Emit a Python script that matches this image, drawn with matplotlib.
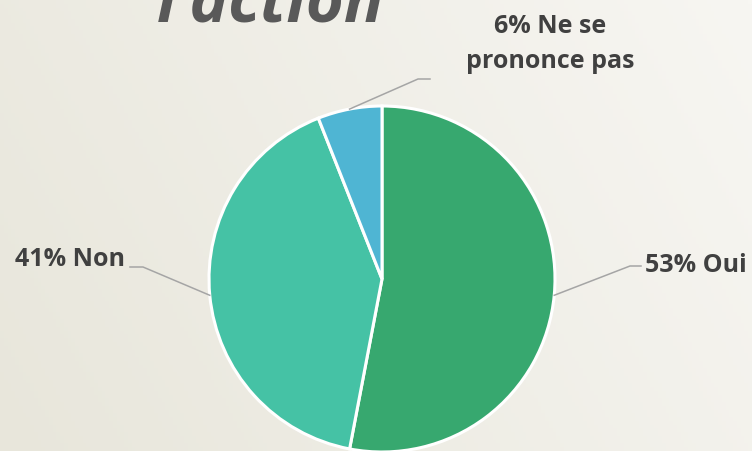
import numpy as np
import matplotlib
matplotlib.use("Agg")
import matplotlib.pyplot as plt

labels = ["Oui", "Non", "Ne se\nprononce pas"]
values = [53, 41, 6]
colors = ["#37A86F", "#45C2A5", "#4FB5D3"]

W, H = 752, 451
fig = plt.figure(figsize=(W / 100, H / 100), dpi=100)

# background gradient
bg = fig.add_axes([0, 0, 1, 1])
xx, yy = np.meshgrid(np.linspace(0, 1, 200), np.linspace(0, 1, 120))
t = np.clip(0.75 * xx + 0.25 * (1 - yy), 0, 1)
left = np.array([232, 230, 219]) / 255
right = np.array([247, 246, 242]) / 255
img = left[None, None, :] * (1 - t[..., None]) + right[None, None, :] * t[..., None]
bg.imshow(img, aspect="auto", extent=[0, 1, 0, 1])
bg.axis("off")

ax = fig.add_axes([0, 0, 1, 1])
ax.patch.set_alpha(0)

cx, cy, r = 382, H - 279, 173
wedges, _ = ax.pie(values, colors=colors, startangle=90, counterclock=False,
                   center=(cx, cy), radius=r, frame=True,
                   wedgeprops=dict(edgecolor="white", linewidth=2.2))
ax.set_xlim(0, W)
ax.set_ylim(0, H)
ax.axis("off")

font = "Open Sans"
txt_col = "#404040"
line_col = "#A5A5A5"

def edge_point(w):
    a = np.deg2rad((w.theta1 + w.theta2) / 2)
    return cx + r * np.cos(a), cy + r * np.sin(a)

# Oui
x0, y0 = edge_point(wedges[0])
ax.plot([x0, 630, 641], [y0, H - 266, H - 266], color=line_col, lw=1.1)
ax.text(645, H - 272, f"{values[0]}% {labels[0]}", fontsize=18, family=font,
        weight="bold", color=txt_col, ha="left", va="baseline")

# Non
x0, y0 = edge_point(wedges[1])
ax.plot([x0, 143, 130], [y0, H - 267, H - 267], color=line_col, lw=1.1)
ax.text(125, H - 266, f"{values[1]}% {labels[1]}", fontsize=18, family=font,
        weight="bold", color=txt_col, ha="right", va="baseline")

# Ne se prononce pas
x0, y0 = edge_point(wedges[2])
ax.plot([x0, 418, 430], [y0, H - 79, H - 79], color=line_col, lw=1.1)
l1, l2 = labels[2].split("\n")
ax.text(550, H - 33, f"{values[2]}% {l1}", fontsize=18, family=font,
        weight="bold", color=txt_col, ha="center", va="baseline")
ax.text(550, H - 68, l2, fontsize=18, family=font,
        weight="bold", color=txt_col, ha="center", va="baseline")

# title (cut off at top, as in the slide)
ax.text(157, H - 22, "l\u2019action", fontsize=47, family=font, style="italic",
        weight="bold", color="#595959", ha="left", va="baseline")

fig.savefig("out.png", dpi=100)
